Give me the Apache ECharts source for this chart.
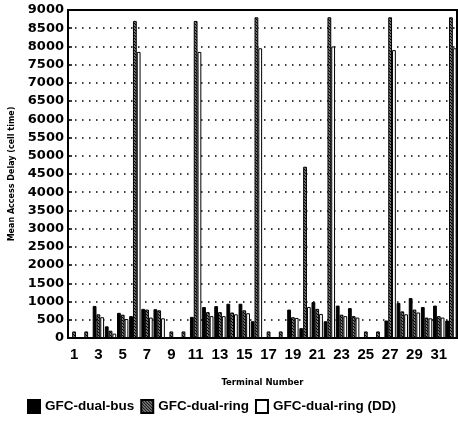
<!DOCTYPE html>
<html>
<head>
<meta charset="utf-8">
<script src="https://cdn.jsdelivr.net/npm/echarts@6/dist/echarts.min.js"></script>
<style>
  html, body { margin: 0; padding: 0; background: #fff; }
  #chart { width: 458px; height: 429px; }
</style>
</head>
<body>
<div id="chart"></div>
<script>
// Mean access delay per terminal for the three GFC variants
const terminals = ['1','2','3','4','5','6','7','8','9','10','11','12','13','14','15','16',
                   '17','18','19','20','21','22','23','24','25','26','27','28','29','30','31','32'];
const dualBus    = [0, 0, 880, 320, 690, 600, 800, 790, 0, 0, 580, 850, 875, 940, 940, 460,
                    0, 0, 780, 270, 985, 460, 890, 820, 0, 0, 480, 965, 1095, 850, 890, 480];
const dualRing   = [180, 180, 650, 200, 640, 8700, 780, 760, 180, 180, 8700, 710, 710, 700, 760, 8800,
                    180, 180, 570, 4700, 800, 8800, 640, 600, 180, 180, 8800, 730, 780, 560, 600, 8800];
const dualRingDD = [0, 0, 570, 120, 520, 7850, 560, 540, 0, 0, 7850, 600, 600, 650, 680, 7950,
                    0, 0, 550, 850, 660, 8000, 600, 560, 0, 0, 7900, 650, 700, 540, 560, 7950];
const yMax = 9000;
const yStep = 500;

// diagonal hatch fill for the dual-ring bars
function hatchPattern() {
  const c = document.createElement('canvas');
  c.width = 3; c.height = 3;
  const g = c.getContext('2d');
  g.fillStyle = '#fff';
  g.fillRect(0, 0, 3, 3);
  g.strokeStyle = '#000';
  g.lineWidth = 1.5;
  g.beginPath();
  g.moveTo(-1, -1); g.lineTo(4, 4);
  g.moveTo(2, -1); g.lineTo(4, 1);
  g.moveTo(-1, 2); g.lineTo(1, 4);
  g.stroke();
  return c;
}

const boldFont = 'DejaVu Sans';
const chart = echarts.init(document.getElementById('chart'));

chart.setOption({
  animation: false,
  backgroundColor: '#fff',
  grid: {
    left: 62, right: 1, top: 10, bottom: 91,
    show: true, borderColor: '#000', borderWidth: 2
  },
  legend: {
    left: 22, bottom: 10,
    icon: 'rect', itemWidth: 12, itemHeight: 13, itemGap: 6,
    textStyle: { fontFamily: 'Liberation Sans', fontWeight: 'bold', fontSize: 13.5, color: '#000' },
    data: ['GFC-dual-bus', 'GFC-dual-ring', 'GFC-dual-ring (DD)']
  },
  xAxis: {
    type: 'category',
    data: terminals,
    name: 'Terminal Number',
    nameLocation: 'middle',
    nameGap: 40,
    nameTextStyle: { fontFamily: boldFont, fontWeight: 'bold', fontSize: 8.5, color: '#000' },
    axisLine: { lineStyle: { color: '#000', width: 2 } },
    axisTick: { show: false },
    axisLabel: {
      interval: 1, margin: 9,
      fontFamily: 'Liberation Sans', fontWeight: 'bold', fontSize: 15, color: '#000'
    }
  },
  yAxis: {
    type: 'value',
    min: 0, max: yMax, interval: yStep,
    name: 'Mean Access Delay (cell time)',
    nameLocation: 'middle',
    nameGap: 52,
    nameTextStyle: { fontFamily: boldFont, fontWeight: 'bold', fontSize: 8, color: '#000' },
    axisLine: { show: true, lineStyle: { color: '#000', width: 2 } },
    axisTick: { show: true, inside: true, length: 4, lineStyle: { color: '#000', width: 1.5 } },
    axisLabel: {
      margin: 4, fontFamily: boldFont, fontWeight: 'bold', fontSize: 13, color: '#000',
      formatter: v => String(v)
    },
    splitLine: { show: true, lineStyle: { color: '#000', width: 1.5, type: [1.5, 5.5] } }
  },
  series: [
    {
      name: 'GFC-dual-bus', type: 'bar', data: dualBus,
      barWidth: 3.8, barGap: '0%',
      itemStyle: { color: '#000', borderColor: '#000', borderWidth: 1 }
    },
    {
      name: 'GFC-dual-ring', type: 'bar', data: dualRing,
      barWidth: 3.8, barGap: '0%',
      itemStyle: { color: { image: hatchPattern(), repeat: 'repeat' }, borderColor: '#000', borderWidth: 1 }
    },
    {
      name: 'GFC-dual-ring (DD)', type: 'bar', data: dualRingDD,
      barWidth: 3.8, barGap: '0%',
      itemStyle: { color: '#fff', borderColor: '#000', borderWidth: 1 }
    }
  ]
});
</script>
</body>
</html>
